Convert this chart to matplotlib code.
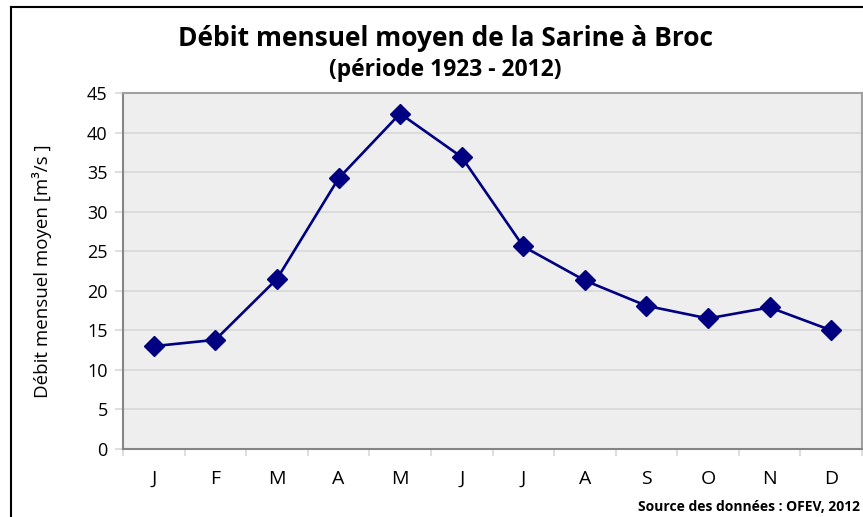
import matplotlib
matplotlib.use("Agg")
import matplotlib.pyplot as plt
import numpy as np
from matplotlib.lines import Line2D

months = ["J", "F", "M", "A", "M", "J", "J", "A", "S", "O", "N", "D"]
debit = [13.0, 13.8, 21.5, 34.2, 42.4, 36.9, 25.6, 21.3, 18.1, 16.5, 17.9, 15.0]
yticks = [0, 5, 10, 15, 20, 25, 30, 35, 40, 45]

title = "Débit mensuel moyen de la Sarine à Broc"
subtitle = "(période 1923 - 2012)"
ylabel = "Débit mensuel moyen [m³/s ]"
source = "Source des données : OFEV, 2012"

FONT = ["Open Sans", "DejaVu Sans"]
plt.rcParams["font.family"] = FONT

fig = plt.figure(figsize=(8.63, 5.17), dpi=100)
ax = fig.add_axes([123/863, 1-449/517, 739/863, 356/517])
ax.set_facecolor("#EEEEEE")

x = np.arange(len(months))
ax.plot(x, debit, color="#000080", lw=1.9, marker="D", markersize=10,
        markerfacecolor="#000080", markeredgecolor="#000080", zorder=3)

ax.set_xlim(-0.5, len(months) - 0.5)
ax.set_ylim(0, 45)
ax.set_yticks(yticks)
ax.set_yticklabels([str(v) for v in yticks], fontsize=13)
ax.yaxis.grid(True, color="#D8D8D8", lw=1.2)
ax.set_axisbelow(True)
ax.tick_params(axis="y", length=6, color="#D8D8D8", width=1.2, pad=5)

ax.set_xticks(x)
ax.set_xticklabels(months, fontsize=14)
ax.set_xticks(np.arange(-0.5, len(months), 1), minor=True)
ax.tick_params(axis="x", which="major", length=0, pad=15)
ax.tick_params(axis="x", which="minor", length=5, color="#D8D8D8", width=1.2)

for s in ["left", "bottom"]:
    ax.spines[s].set_color("#858585")
    ax.spines[s].set_linewidth(1.5)
for s in ["top", "right"]:
    ax.spines[s].set_color("#A0A0A0")
    ax.spines[s].set_linewidth(1.5)

ax.set_ylabel(ylabel, fontsize=13.5)
ax.yaxis.set_label_coords(-(123-52)/739, 0.5)

fig.text(445/863, 1-38/517, title, ha="center", va="center", fontsize=19, fontweight="bold")
fig.text(445/863, 1-70/517, subtitle, ha="center", va="center", fontsize=16.5, fontweight="bold")
fig.text(860/863, 1-507/517, source, ha="right", va="center", fontsize=10, fontweight="bold")

# outer frame lines (left and top)
fig.add_artist(Line2D([11/863, 11/863], [0, 1-7/517], color="black", lw=1.5, transform=fig.transFigure))
fig.add_artist(Line2D([11/863, 1], [1-7/517, 1-7/517], color="black", lw=1.5, transform=fig.transFigure))

fig.savefig("out.png", dpi=100)
